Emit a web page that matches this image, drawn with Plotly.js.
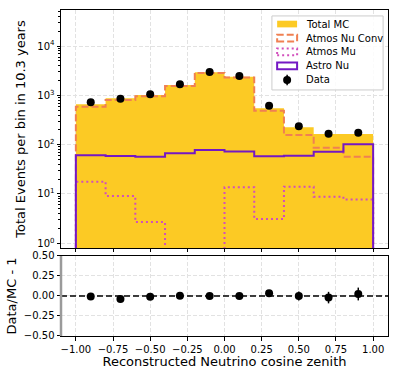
<!DOCTYPE html>
<html>
<head>
<meta charset="utf-8">
<script src="https://cdn.plot.ly/plotly-3.0.1.min.js"></script>
<style>
  body { margin: 0; background: #fff; }
  #plotArea { width: 399px; height: 376px; }
</style>
</head>
<body>
<div id="plotArea"></div>
<script>
// bin edges and centres in reconstructed cos(zenith)
var edges = [-1.0, -0.8, -0.6, -0.4, -0.2, 0.0, 0.2, 0.4, 0.6, 0.8, 1.0];
var centers = [-0.9, -0.7, -0.5, -0.3, -0.1, 0.1, 0.3, 0.5, 0.7, 0.9];

// events per bin
var totalMC = [660, 875, 1020, 1620, 2940, 2400, 546, 225, 165, 165];
var atmosNuConv = [585, 805, 960, 1550, 2860, 2310, 490, 157, 87, 57];
var atmosMu = [17.8, 9.1, 2.7, 0, 0, 13.7, 3.1, 14.1, 8.8, 7.7];
var astroNu = [61, 59, 57, 67, 78, 73, 58, 60, 72, 102];
var dataCounts = [725, 855, 1050, 1680, 2980, 2470, 617, 236, 167, 175];

// ratio panel
var ratio = [-0.005, -0.037, -0.01, 0.003, 0.0, 0.0, 0.035, 0.0, -0.02, 0.025];
var ratioErr = [0.012, 0.014, 0.014, 0.014, 0.012, 0.012, 0.02, 0.055, 0.072, 0.08];

var legendNames = ["Total MC", "Atmos Nu Conv", "Atmos Mu", "Astro Nu", "Data"];

var FLOOR = 1e-3; // below the visible log range, so step edges run off the bottom

function stepXY(vals) {
  var xs = [edges[0]], ys = [FLOOR];
  for (var i = 0; i < vals.length; i++) {
    var v = vals[i] > 0 ? vals[i] : FLOOR;
    xs.push(edges[i], edges[i + 1]);
    ys.push(v, v);
  }
  xs.push(edges[edges.length - 1]);
  ys.push(FLOOR);
  return { x: xs, y: ys };
}

var yellow = "#FCCA24";
var orange = "#F08052";
var pink = "#D24FBC";
var purple = "#7418C4";

var mcStep = stepXY(totalMC);
var convStep = stepXY(atmosNuConv);
var muStep = stepXY(atmosMu);
var astroStep = stepXY(astroNu);

var traces = [
  { x: mcStep.x, y: mcStep.y, type: "scatter", mode: "lines", fill: "toself",
    fillcolor: yellow, line: { width: 0 }, hoverinfo: "skip", xaxis: "x", yaxis: "y" },
  { x: convStep.x, y: convStep.y, type: "scatter", mode: "lines",
    line: { color: orange, width: 2, dash: "7px,3px" }, xaxis: "x", yaxis: "y" },
  { x: muStep.x, y: muStep.y, type: "scatter", mode: "lines",
    line: { color: pink, width: 2, dash: "2px,3px" }, xaxis: "x", yaxis: "y" },
  { x: astroStep.x, y: astroStep.y, type: "scatter", mode: "lines",
    line: { color: purple, width: 2 }, xaxis: "x", yaxis: "y" },
  { x: centers, y: dataCounts, type: "scatter", mode: "markers",
    marker: { color: "black", size: 8 }, xaxis: "x", yaxis: "y" },
  { x: centers, y: ratio, type: "scatter", mode: "markers",
    marker: { color: "black", size: 8 },
    error_y: { type: "data", array: ratioErr, color: "black", thickness: 1.5, width: 0 },
    xaxis: "x2", yaxis: "y2" }
];

// log tick positions
var majorVals = [1, 10, 100, 1000, 10000];
var majorText = ["10<sup>0</sup>", "10<sup>1</sup>", "10<sup>2</sup>", "10<sup>3</sup>", "10<sup>4</sup>"];
var minorVals = [];
for (var d = 0; d <= 4; d++) {
  for (var m = 2; m <= 9; m++) minorVals.push(m * Math.pow(10, d));
}

var xticks = [-1, -0.75, -0.5, -0.25, 0, 0.25, 0.5, 0.75, 1];
var font = { family: "DejaVu Sans", size: 10, color: "black" };
var titleFont = { family: "DejaVu Sans", size: 13, color: "black" };
var gridStyle = { showgrid: true, gridcolor: "#e2e2e2", griddash: "4px,2px", gridwidth: 1 };

function axisBase(extra) {
  var a = {
    showline: true, mirror: true, linecolor: "black", linewidth: 1,
    ticks: "outside", ticklen: 3.5, tickcolor: "black", zeroline: false,
    tickfont: font
  };
  for (var k in gridStyle) a[k] = gridStyle[k];
  for (var k2 in extra) a[k2] = extra[k2];
  return a;
}

// hand-drawn legend in top-panel domain coords
var lx0 = 0.645, lx1 = 0.985, ly0 = 0.664, ly1 = 0.975;
var rowY = [0.941, 0.882, 0.824, 0.765, 0.706];
var px0 = 0.661, px1 = 0.722, ph = 0.014;
var shapes = [
  { type: "rect", xref: "x domain", yref: "y domain", x0: lx0, x1: lx1, y0: ly0, y1: ly1,
    fillcolor: "rgba(255,255,255,0.85)", line: { color: "#cccccc", width: 1 } },
  { type: "rect", xref: "x domain", yref: "y domain", x0: px0, x1: px1,
    y0: rowY[0] - ph, y1: rowY[0] + ph, fillcolor: yellow, line: { width: 0 } },
  { type: "rect", xref: "x domain", yref: "y domain", x0: px0, x1: px1,
    y0: rowY[1] - ph, y1: rowY[1] + ph, line: { color: orange, width: 2, dash: "7px,3px" } },
  { type: "rect", xref: "x domain", yref: "y domain", x0: px0, x1: px1,
    y0: rowY[2] - ph, y1: rowY[2] + ph, line: { color: pink, width: 2, dash: "2px,3px" } },
  { type: "rect", xref: "x domain", yref: "y domain", x0: px0, x1: px1,
    y0: rowY[3] - ph, y1: rowY[3] + ph, line: { color: purple, width: 2 } },
  { type: "line", xref: "x domain", yref: "y domain", x0: (px0 + px1) / 2, x1: (px0 + px1) / 2,
    y0: rowY[4] - 0.022, y1: rowY[4] + 0.022, line: { color: "black", width: 1.5 } },
  { type: "circle", xref: "x domain", yref: "y domain", xsizemode: "pixel", ysizemode: "pixel",
    xanchor: (px0 + px1) / 2, yanchor: rowY[4], x0: -4, x1: 4, y0: -4, y1: 4,
    fillcolor: "black", line: { width: 0 } },
  // ratio panel: zero line and grey left spine
  { type: "line", xref: "x2 domain", yref: "y2", x0: 0, x1: 1, y0: 0, y1: 0,
    line: { color: "black", width: 1.5, dash: "6px,3px" } },
  { type: "line", xref: "x2 domain", yref: "y2 domain", x0: 0, x1: 0, y0: 0, y1: 1,
    line: { color: "#9a9a9a", width: 2.5 } }
];

var annotations = legendNames.map(function (name, i) {
  return { xref: "x domain", yref: "y domain", x: 0.743, y: rowY[i], text: name,
    showarrow: false, xanchor: "left", yanchor: "middle", font: font };
});

var layout = {
  width: 399, height: 376,
  margin: { l: 61, r: 11, t: 10, b: 40 },
  paper_bgcolor: "white", plot_bgcolor: "white",
  showlegend: false,
  font: font,
  xaxis: axisBase({ domain: [0, 1], range: [-1.1, 1.1], anchor: "y",
    tickvals: xticks, showticklabels: false }),
  yaxis: axisBase({ domain: [0.27, 1], type: "log", range: [-0.095, 4.732], anchor: "x",
    tickvals: majorVals, ticktext: majorText,
    minor: { tickvals: minorVals, ticks: "outside", ticklen: 2, tickcolor: "black", showgrid: false },
    title: { text: "Total Events per bin in 10.3 years", standoff: 8, font: titleFont } }),
  xaxis2: axisBase({ domain: [0, 1], range: [-1.1, 1.1], anchor: "y2",
    tickvals: xticks, tickformat: ".2f",
    title: { text: "Reconstructed Neutrino cosine zenith", standoff: 3, font: titleFont } }),
  yaxis2: axisBase({ domain: [0, 0.2454], range: [-0.5, 0.5], anchor: "x2",
    tickvals: [-0.5, -0.25, 0, 0.25, 0.5], tickformat: ".2f",
    title: { text: "Data/MC - 1", standoff: 4, font: titleFont } }),
  shapes: shapes,
  annotations: annotations
};

Plotly.newPlot("plotArea", traces, layout, { staticPlot: true, displayModeBar: false });
</script>
</body>
</html>
